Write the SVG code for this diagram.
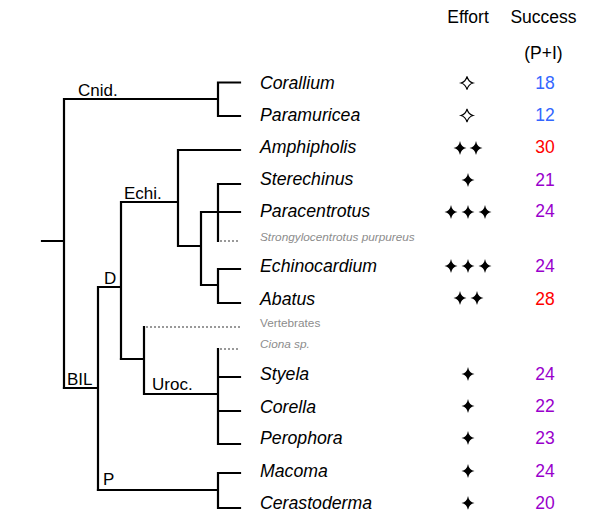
<svg xmlns="http://www.w3.org/2000/svg" xmlns:xlink="http://www.w3.org/1999/xlink" width="600" height="528" viewBox="0 0 600 528">
<style>
.br{fill:none;stroke:#000;stroke-width:2.2;stroke-linecap:square}
.dot{fill:none;stroke:#999;stroke-width:2;stroke-dasharray:2 2}
.sp{font-family:"Liberation Sans",Arial,sans-serif;font-style:italic;font-size:17.7px;fill:#000}
.sm{font-family:"Liberation Sans",Arial,sans-serif;font-size:11.8px;fill:#8c8c8c}
.cl{font-family:"Liberation Sans",Arial,sans-serif;font-size:17px;fill:#000}
.hd{font-family:"Liberation Sans",Arial,sans-serif;font-size:17.5px;fill:#000;text-anchor:middle}
.n{font-family:"Liberation Sans",Arial,sans-serif;font-size:17.5px;text-anchor:middle}
.b{fill:#3366ff}.r{fill:#ff0000}.p{fill:#9900cc}
</style>
<defs>
<path id="fs" d="M0,-7 Q1,-1 6.5,0 Q1,1 0,7 Q-1,1 -6.5,0 Q-1,-1 0,-7Z" fill="#000"/>
<path id="hs" d="M0,-6.5 Q1.3,-1.3 6,0 Q1.3,1.3 0,6.5 Q-1.3,1.3 -6,0 Q-1.3,-1.3 0,-6.5Z" fill="#fff" stroke="#000" stroke-width="1.1"/>
</defs>
<rect width="600" height="528" fill="#fff"/>
<g id="header">
<text class="hd" x="468" y="23">Effort</text>
<text class="hd" x="543.5" y="23">Success</text>
<text class="hd" x="543.5" y="59">(P+I)</text>
</g>
<g id="connectors">
<path class="br" d="M42,241 H64 M64,99 V388 M64,99 H218 M218,82.5 V116 M218,82.5 H240 M218,116 H240"/>
<path class="br" d="M64,388 H98 M98,287 V490 M98,287 H121 M121,202 V359 M121,202 H178 M178,150 V246 M178,150 H240 M178,246 H201 M201,212 V285 M201,212 H240 M218,184 V241 M218,184 H240 M201,285 H218 M218,269 V303 M218,269 H240 M218,303 H240"/>
<path class="br" d="M121,359 H144 M144,327 V394 M144,394 H218 M218,349 V444 M218,377 H240 M218,411 H240 M218,444 H240"/>
<path class="br" d="M98,490 H218 M218,473 V508 M218,473 H240 M218,508 H240"/>
<path class="dot" d="M220,241 H240 M146,327 H240 M220,349 H240"/>
</g>
<g id="clade-labels">
<text class="cl" x="78" y="96">Cnid.</text>
<text class="cl" x="124" y="199">Echi.</text>
<text class="cl" x="104" y="284">D</text>
<text class="cl" x="67" y="385">BIL</text>
<text class="cl" x="152" y="390">Uroc.</text>
<text class="cl" x="103" y="485">P</text>
</g>
<g id="corallium"><text class="sp" x="260" y="88.5">Corallium</text><use xlink:href="#hs" x="467" y="83"/><text class="n b" x="545" y="89">18</text></g>
<g id="paramuricea"><text class="sp" x="260" y="121">Paramuricea</text><use xlink:href="#hs" x="467" y="115.5"/><text class="n b" x="545" y="121">12</text></g>
<g id="amphipholis"><text class="sp" x="260" y="153">Amphipholis</text><use xlink:href="#fs" x="460" y="148"/><use xlink:href="#fs" x="476" y="148"/><text class="n r" x="545" y="153">30</text></g>
<g id="sterechinus"><text class="sp" x="260" y="185">Sterechinus</text><use xlink:href="#fs" x="468" y="180"/><text class="n p" x="545" y="186">21</text></g>
<g id="paracentrotus"><text class="sp" x="260" y="217">Paracentrotus</text><use xlink:href="#fs" x="451" y="212"/><use xlink:href="#fs" x="468" y="212"/><use xlink:href="#fs" x="485" y="212"/><text class="n p" x="545" y="217">24</text></g>
<g id="strongylocentrotus"><text class="sm" x="260" y="241" font-style="italic">Strongylocentrotus purpureus</text></g>
<g id="echinocardium"><text class="sp" x="260" y="272">Echinocardium</text><use xlink:href="#fs" x="451" y="266"/><use xlink:href="#fs" x="468" y="266"/><use xlink:href="#fs" x="485" y="266"/><text class="n p" x="545" y="272">24</text></g>
<g id="abatus"><text class="sp" x="260" y="304.5">Abatus</text><use xlink:href="#fs" x="460" y="298"/><use xlink:href="#fs" x="477" y="298"/><text class="n r" x="545" y="305">28</text></g>
<g id="vertebrates"><text class="sm" x="260" y="327">Vertebrates</text></g>
<g id="ciona"><text class="sm" x="260" y="348" font-style="italic">Ciona sp.</text></g>
<g id="styela"><text class="sp" x="260" y="380">Styela</text><use xlink:href="#fs" x="468" y="374"/><text class="n p" x="545" y="380">24</text></g>
<g id="corella"><text class="sp" x="260" y="413">Corella</text><use xlink:href="#fs" x="468" y="406"/><text class="n p" x="545" y="412">22</text></g>
<g id="perophora"><text class="sp" x="260" y="444">Perophora</text><use xlink:href="#fs" x="468" y="438"/><text class="n p" x="545" y="444">23</text></g>
<g id="macoma"><text class="sp" x="260" y="477">Macoma</text><use xlink:href="#fs" x="468" y="471"/><text class="n p" x="545" y="477">24</text></g>
<g id="cerastoderma"><text class="sp" x="260" y="509">Cerastoderma</text><use xlink:href="#fs" x="468" y="503"/><text class="n p" x="545" y="509">20</text></g>
</svg>
